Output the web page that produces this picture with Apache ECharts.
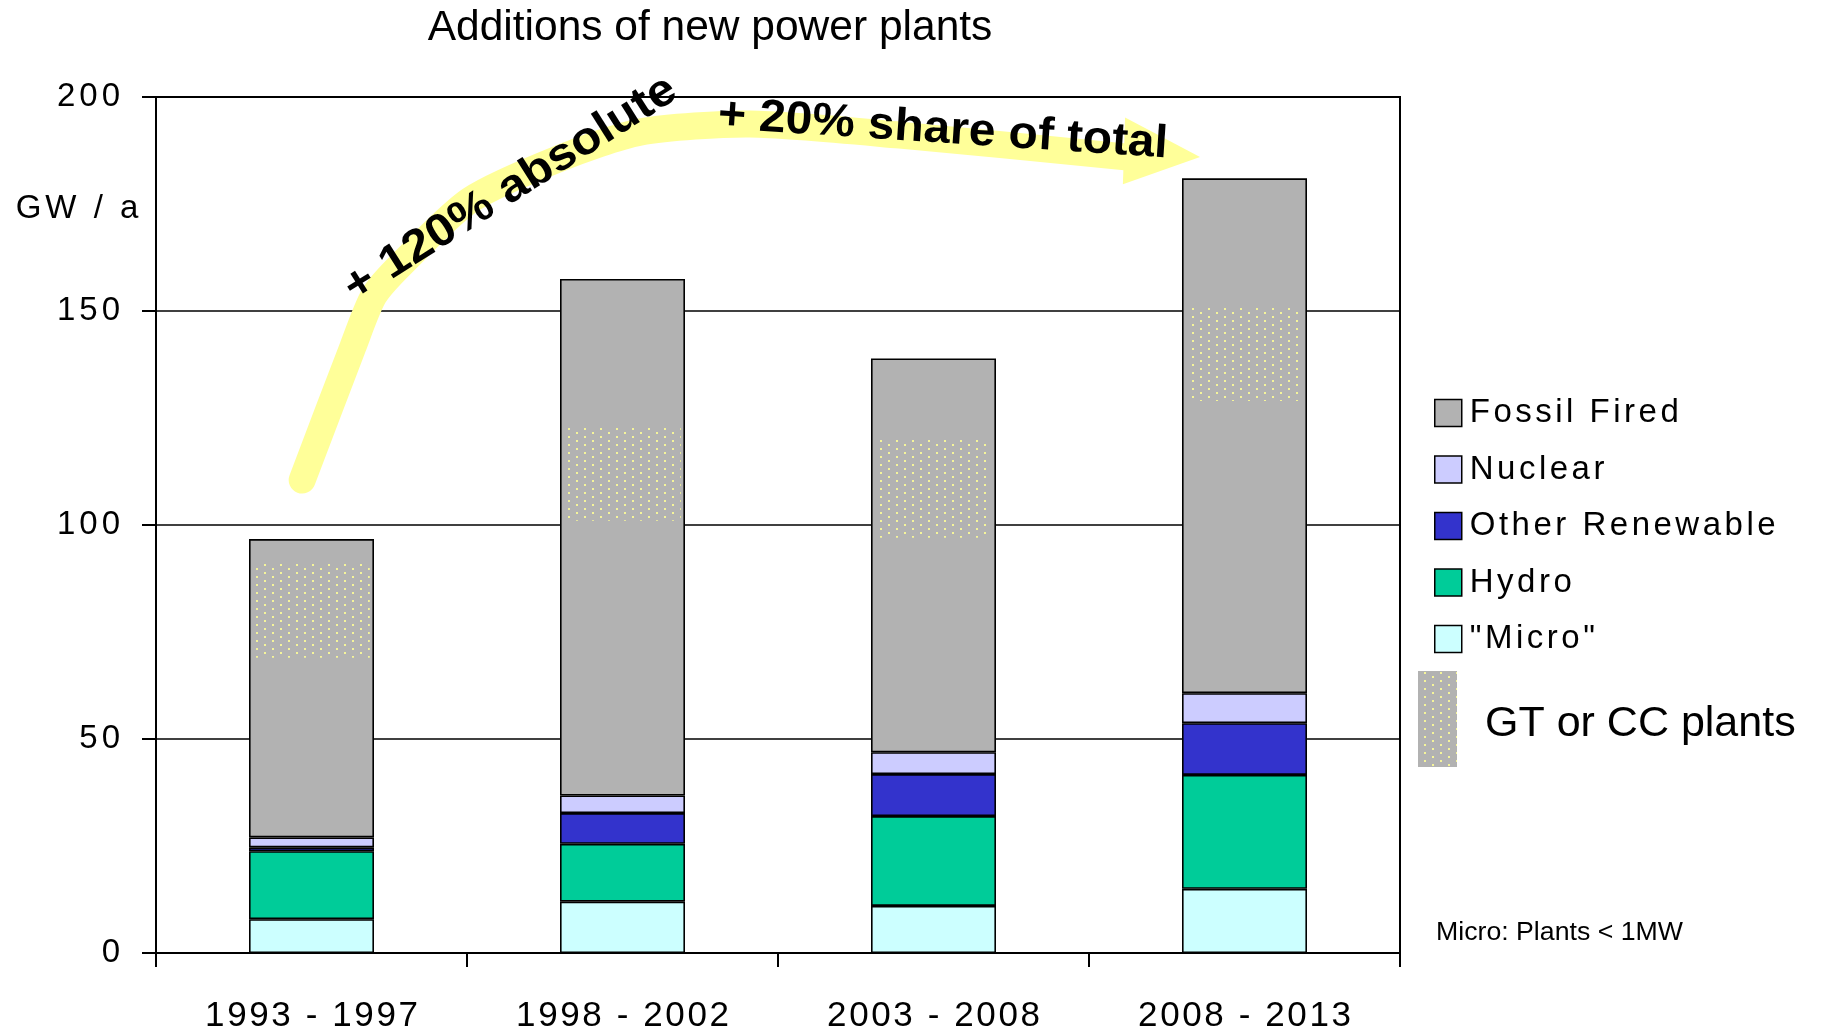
<!DOCTYPE html>
<html>
<head>
<meta charset="utf-8">
<script src="https://cdn.jsdelivr.net/npm/echarts@6/dist/echarts.min.js"></script>
<style>
  html, body { margin: 0; padding: 0; background: #fff; }
  #chart { width: 1821px; height: 1031px; }
</style>
</head>
<body>
<div id="chart"></div>
<script>
// Capacity additions per period, GW per year (stacked bottom to top)
const periods = ['1993 - 1997', '1998 - 2002', '2003 - 2008', '2008 - 2013'];
const micro = [7.9, 12, 11, 15];
const hydro = [15.9, 13.5, 21, 26.6];
const otherRenewable = [0.9, 7.2, 9.8, 12.1];
const nuclear = [2.3, 4.1, 5.1, 7];
const fossilFired = [69.7, 120.7, 92, 120.3];
// Portion of the fossil block that is gas-turbine / combined-cycle plant
const gtccLow = [69, 101, 97, 129];
const gtccHigh = [91, 123, 120, 151];
// Value axis
const yMin = 0, yMax = 200, yStep = 50;

const FONT = "'Liberation Sans', Arial, Helvetica, sans-serif";
const GRID = { left: 156, right: 421, top: 97, bottom: 78 };
const W = 1821, H = 1031;

// Letter-spaced text built from rich-text tokens (one token per character)
function spaced(str, key, lead) {
  const chars = Array.from(String(str));
  return chars.map((c, i) => {
    let k = key;
    if (i === chars.length - 1) k = key + 'E';
    else if (i === 0 && lead) k = key + 'F';
    return '{' + k + '|' + c + '}';
  }).join('');
}
function richSet(key, size, gap, lead, lineHeight) {
  const base = { fontSize: size, fontFamily: FONT, color: '#000' };
  if (lineHeight) base.lineHeight = lineHeight;
  const r = {};
  r[key] = Object.assign({ padding: [0, gap, 0, 0] }, base);
  r[key + 'E'] = Object.assign({}, base);
  r[key + 'F'] = Object.assign({ padding: [0, gap, 0, lead || 0] }, base);
  return r;
}

// Dotted fill for GT / CC plants
const tile = document.createElement('canvas');
tile.width = 16; tile.height = 8;
const tg = tile.getContext('2d');
tg.fillStyle = '#f4f49a';
tg.fillRect(0, 0, 2, 2);
tg.fillRect(8, 4, 2, 2);
const dots = { image: tile, repeat: 'repeat' };

// Annotation helper: category position / value -> pixel
const bandW = (W - GRID.left - GRID.right) / periods.length;
const plotH = H - GRID.top - GRID.bottom;
function px(cat, val) {
  return [GRID.left + (cat + 0.5) * bandW, GRID.top + (yMax - val) / (yMax - yMin) * plotH];
}
// Trend arrow path in (category position, value)
const arrowPath = [
  [-0.03, 110.5], [0.133, 141.6], [0.2, 153.5], [0.29, 161.0], [0.51, 175.9],
  [0.799, 185.7], [1.056, 191.8], [1.41, 193.7], [1.892, 191.1], [2.616, 186.0]
];
const arrowHead = [[2.616, 195.2], [2.857, 186.0], [2.609, 179.6]];

const stackDefs = [
  ['"Micro"', micro, '#ccffff'],
  ['Hydro', hydro, '#00cc99'],
  ['Other Renewable', otherRenewable, '#3333cc'],
  ['Nuclear', nuclear, '#ccccff'],
  ['Fossil Fired', fossilFired, '#b2b2b2']
];

const series = stackDefs.map(([name, data, color]) => ({
  type: 'bar',
  name: name,
  data: data,
  stack: 'total',
  barWidth: 125,
  itemStyle: { color: color, borderColor: '#000', borderWidth: 1.6 },
  emphasis: { disabled: true },
  silent: true
}));

series.push({
  type: 'custom',
  name: 'GT or CC plants',
  silent: true,
  z: 5,
  data: periods.map((p, i) => [i, gtccLow[i], gtccHigh[i]]),
  encode: { x: 0, y: [1, 2] },
  renderItem: function (params, api) {
    const lo = api.coord([api.value(0), api.value(1)]);
    const hi = api.coord([api.value(0), api.value(2)]);
    const w = api.size([1, 0])[0] * 0.375;
    return {
      type: 'rect',
      shape: { x: lo[0] - w / 2, y: hi[1], width: w, height: lo[1] - hi[1] },
      style: { fill: dots }
    };
  }
});

const chart = echarts.init(document.getElementById('chart'), null, { renderer: 'canvas' });

const boldText = { fontFamily: FONT, fontWeight: 'bold', fontSize: 46, fill: '#000', align: 'center', verticalAlign: 'middle' };
const t1 = px(0.64, 178.5);
const t2 = px(2.03, 192.3);

chart.setOption({
  animation: false,
  backgroundColor: '#fff',
  grid: Object.assign({ show: true, borderColor: '#000', borderWidth: 2, backgroundColor: 'transparent', outerBoundsMode: 'none', containLabel: false }, GRID),
  xAxis: {
    type: 'category',
    data: periods,
    axisLine: { show: true, lineStyle: { color: '#000', width: 2 } },
    axisTick: { show: true, interval: 0, length: 14, lineStyle: { color: '#000', width: 2 } },
    axisLabel: {
      interval: 0,
      margin: 46,
      formatter: v => spaced(v, 'x'),
      rich: richSet('x', 35, 2.6)
    },
    splitLine: { show: false }
  },
  yAxis: {
    type: 'value',
    min: yMin, max: yMax, interval: yStep,
    axisLine: { show: true, lineStyle: { color: '#000', width: 2 } },
    axisTick: { show: true, length: 14, lineStyle: { color: '#000', width: 2 } },
    axisLabel: {
      margin: 36,
      formatter: v => spaced(v, 'y'),
      rich: richSet('y', 33, 4)
    },
    splitLine: { show: true, lineStyle: { color: '#000', width: 1.5 } }
  },
  legend: {
    data: ['Fossil Fired', 'Nuclear', 'Other Renewable', 'Hydro', '"Micro"'],
    orient: 'vertical',
    left: 1429,
    top: 391.5,
    padding: 5,
    icon: 'rect',
    itemWidth: 27,
    itemHeight: 27,
    itemGap: 23.5,
    selectedMode: false,
    itemStyle: { borderColor: '#000', borderWidth: 1.5 },
    formatter: n => spaced(n, 'l', true),
    textStyle: { fontSize: 33, lineHeight: 27, fontFamily: FONT, color: '#000', rich: richSet('l', 33, 3.5, 3, 27) }
  },
  tooltip: { show: false },
  series: series,
  graphic: [
    {
      type: 'text', x: 710, y: 28.5, silent: true,
      style: { text: 'Additions of new power plants', fontFamily: FONT, fontSize: 42.5, fill: '#000', align: 'center', verticalAlign: 'middle' }
    },
    {
      type: 'text', x: 77, y: 208.5, silent: true,
      style: { text: spaced('GW / a', 'g'), rich: richSet('g', 33, 4), fontSize: 33, fontFamily: FONT, fill: '#000', align: 'center', verticalAlign: 'middle' }
    },
    {
      type: 'polyline', silent: true, z: 1,
      shape: { points: arrowPath.map(p => px(p[0], p[1])), smooth: 0.25 },
      style: { stroke: '#ffff99', lineWidth: 27, lineCap: 'round', lineJoin: 'round', fill: null }
    },
    {
      type: 'polygon', silent: true, z: 1,
      shape: { points: arrowHead.map(p => px(p[0], p[1])) },
      style: { fill: '#ffff99' }
    },
    {
      type: 'text', x: t1[0], y: t1[1], rotation: 0.565, scaleX: 1.07, silent: true, z: 2,
      style: Object.assign({ text: '+ 120% absolute' }, boldText)
    },
    {
      type: 'text', x: t2[0], y: t2[1], rotation: -0.065, scaleX: 1.04, silent: true, z: 2,
      style: Object.assign({ text: '+ 20% share of total' }, boldText)
    },
    {
      type: 'rect', silent: true,
      shape: { x: 1418, y: 671, width: 39, height: 96 },
      style: { fill: '#b2b2b2' }
    },
    {
      type: 'rect', silent: true,
      shape: { x: 1418, y: 671, width: 39, height: 96 },
      style: { fill: dots }
    },
    {
      type: 'text', x: 1485, y: 724, silent: true,
      style: { text: 'GT or CC plants', fontFamily: FONT, fontSize: 43, fill: '#000', align: 'left', verticalAlign: 'middle' }
    },
    {
      type: 'text', x: 1436, y: 933, silent: true,
      style: { text: 'Micro: Plants < 1MW', fontFamily: FONT, fontSize: 26.7, fill: '#000', align: 'left', verticalAlign: 'middle' }
    }
  ]
});
</script>
</body>
</html>
